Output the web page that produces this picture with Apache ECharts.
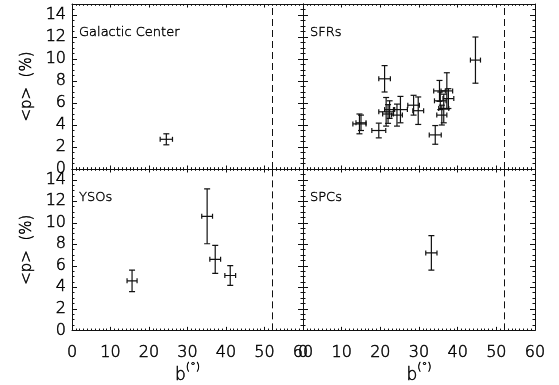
<!DOCTYPE html>
<html>
<head>
<meta charset="utf-8">
<script src="https://cdn.jsdelivr.net/npm/echarts@6/dist/echarts.min.js"></script>
<style>
  html, body { margin: 0; padding: 0; background: #fff; }
  #chart { width: 559px; height: 385px; }
</style>
</head>
<body>
<div id="chart"></div>
<script>
// Mean polarization <p> versus latitude b for four source classes.
// Each row: [b (deg), <p> (%), b error, <p> error]
const galacticCenter = [
  [24.5, 2.7, 1.6, 0.5]
];
const sfrs = [
  [14.6, 4.1, 1.7, 0.9],
  [15.0, 4.2, 1.3, 0.7],
  [19.6, 3.5, 1.8, 0.67],
  [21.1, 8.2, 1.5, 1.2],
  [21.5, 5.2, 1.9, 1.3],
  [22.0, 5.0, 1.4, 0.85],
  [22.4, 5.4, 1.3, 0.8],
  [24.3, 4.9, 1.4, 1.0],
  [25.2, 5.4, 1.8, 1.2],
  [28.6, 5.8, 1.5, 0.9],
  [29.8, 5.3, 1.4, 1.25],
  [34.2, 3.1, 1.55, 0.85],
  [35.3, 7.1, 1.5, 0.95],
  [37.2, 7.1, 1.5, 1.65],
  [35.5, 6.2, 1.5, 0.8],
  [37.6, 6.4, 1.4, 0.9],
  [35.9, 4.9, 1.3, 0.9],
  [36.4, 5.5, 1.3, 1.3],
  [44.6, 9.9, 1.3, 2.1]
];
const ysos = [
  [15.6, 4.6, 1.3, 1.0],
  [35.1, 10.6, 1.4, 2.55],
  [37.2, 6.6, 1.4, 1.3],
  [41.1, 5.1, 1.4, 0.92]
];
const spcs = [
  [33.2, 7.2, 1.45, 1.6]
];

const panelNames = ['Galactic Center', 'SFRs', 'YSOs', 'SPCs'];
const panelData = [galacticCenter, sfrs, ysos, spcs];

const bRange = [0, 60];
const bStep = 10;
const pRange = [0, 15];
const pStep = 2;
const bLimit = 52;            // dashed reference latitude

const INK = '#111';
// thin black lettering: light face with a hairline outline
const TXT = {
  fontFamily: 'DejaVu Sans', fontWeight: 200,
  color: '#000', textBorderColor: '#000', textBorderWidth: 0.5
};

// panel frames in pixels: [left, top, width, height]
const frames = [
  [72, 4, 231, 165],
  [303, 4, 232, 165],
  [72, 169, 231, 164],
  [303, 169, 232, 164]
];

const grids = frames.map(f => ({ left: f[0], top: f[1], width: f[2], height: f[3], containLabel: false }));

const xAxes = [];
const yAxes = [];
frames.forEach((f, i) => {
  const bottomRow = i >= 2;
  const leftCol = i % 2 === 0;
  ['bottom', 'top'].forEach(pos => {
    const main = pos === 'bottom';
    xAxes.push({
      type: 'value', gridIndex: i, position: pos,
      min: bRange[0], max: bRange[1], interval: bStep,
      axisLine: { show: true, onZero: false, lineStyle: { color: INK, width: 1 } },
      axisTick: { show: true, inside: true, length: 3.5, lineStyle: { color: INK, width: 1 } },
      minorTick: { show: true, splitNumber: 10, length: 1.8, lineStyle: { color: INK, width: 1 } },
      splitLine: { show: false },
      axisLabel: Object.assign({ show: main && bottomRow, margin: 14, fontSize: 16 }, TXT),
      name: main && bottomRow ? '{b|b}{s|(°)}' : '',
      nameLocation: 'middle', nameGap: 31,
      nameTextStyle: Object.assign({
        rich: {
          b: Object.assign({ fontSize: 17, lineHeight: 22, verticalAlign: 'bottom' }, TXT),
          s: Object.assign({ fontSize: 11, lineHeight: 22, verticalAlign: 'top' }, TXT)
        }
      }, TXT)
    });
  });
  ['left', 'right'].forEach(pos => {
    const main = pos === 'left';
    yAxes.push({
      type: 'value', gridIndex: i, position: pos,
      min: pRange[0], max: pRange[1], interval: pStep,
      axisLine: { show: true, onZero: false, lineStyle: { color: INK, width: 1 } },
      axisTick: { show: true, inside: true, length: 5, lineStyle: { color: INK, width: 1 } },
      minorTick: { show: true, splitNumber: 4, length: 2.5, lineStyle: { color: INK, width: 1 } },
      splitLine: { show: false },
      axisLabel: Object.assign({ show: main && leftCol, margin: 6, showMaxLabel: false, fontSize: 16 }, TXT),
      name: main && leftCol ? '<p>  (%)' : '',
      nameLocation: 'middle', nameRotate: 90, nameGap: 37,
      nameTextStyle: Object.assign({ fontSize: 15 }, TXT)
    });
  });
});

// crosses with end caps drawn through the axis scales
function renderErrorBar(params, api) {
  const x = api.value(0), y = api.value(1), xe = api.value(2), ye = api.value(3);
  const l = api.coord([x - xe, y]);
  const r = api.coord([x + xe, y]);
  const t = api.coord([x, y + ye]);
  const b = api.coord([x, y - ye]);
  const capV = 3, capH = 2.5;
  const style = { stroke: INK, lineWidth: 1.2 };
  const seg = (x1, y1, x2, y2) => ({ type: 'line', shape: { x1, y1, x2, y2 }, style });
  return {
    type: 'group',
    children: [
      seg(l[0], l[1], r[0], r[1]),
      seg(t[0], t[1], b[0], b[1]),
      seg(l[0], l[1] - capH, l[0], l[1] + capH),
      seg(r[0], r[1] - capH, r[0], r[1] + capH),
      seg(t[0] - capV, t[1], t[0] + capV, t[1]),
      seg(b[0] - capV, b[1], b[0] + capV, b[1])
    ]
  };
}

const series = panelData.map((data, i) => ({
  type: 'custom',
  name: panelNames[i],
  xAxisIndex: i * 2,
  yAxisIndex: i * 2,
  data: data,
  renderItem: renderErrorBar,
  silent: true,
  animation: false,
  clip: true,
  markLine: {
    silent: true, symbol: 'none', animation: false,
    label: { show: false },
    lineStyle: { color: INK, width: 1, type: [7, 4] },
    data: [{ xAxis: bLimit }]
  }
}));

const graphic = frames.map((f, i) => ({
  type: 'text',
  x: f[0] + 7,
  y: f[1] + 29,
  style: {
    text: panelNames[i],
    font: '200 13px "DejaVu Sans"',
    fill: '#000', stroke: '#000', lineWidth: 0.4,
    verticalAlign: 'middle'
  }
}));

const chart = echarts.init(document.getElementById('chart'), null, { renderer: 'canvas' });
chart.setOption({
  animation: false,
  backgroundColor: '#fff',
  grid: grids,
  xAxis: xAxes,
  yAxis: yAxes,
  series: series,
  graphic: graphic
});
</script>
</body>
</html>
